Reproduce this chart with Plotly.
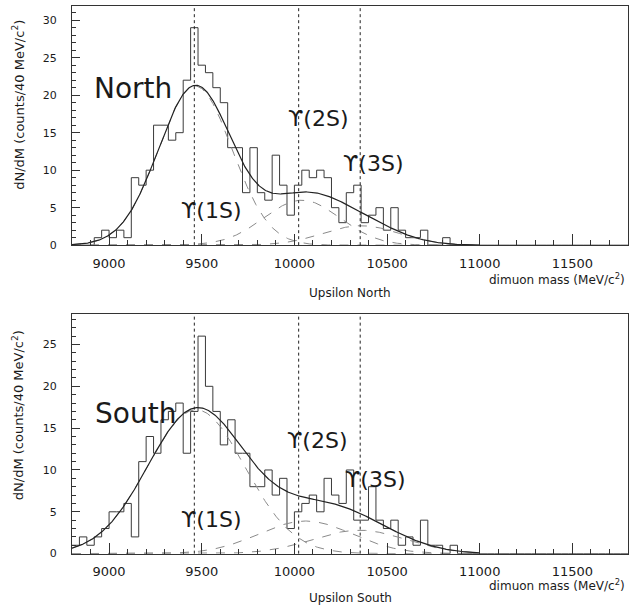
import numpy as np
import plotly.graph_objects as go

W, H = 631, 615

# ---------------- data ----------------
bin_low = 8800
bin_width = 40
north_counts = [0, 0, 0, 1, 2, 1, 2, 1, 9, 8,
                10, 16, 16, 14, 15, 22, 29, 24, 23, 21,
                19, 13, 13, 7, 13, 7, 6, 12, 8, 4,
                8, 10, 9, 10, 9, 5, 3, 7, 8, 3,
                4, 5, 2, 5, 2, 1, 1, 2, 0, 0,
                1, 0, 0, 0, 0, 0, 0, 0, 0, 0,
                0, 0, 0, 0, 0, 0, 0, 0, 0, 0,
                0, 0, 0, 0, 0]
south_counts = [1, 2, 1, 2, 3, 5, 5, 6, 2, 11,
                14, 12, 16, 17, 18, 12, 17, 26, 20, 17,
                13, 16, 12, 12, 8, 8, 10, 7, 9, 3,
                5, 6, 7, 5, 9, 7, 6, 10, 4, 4,
                8, 4, 3, 4, 1, 2, 1, 4, 1, 1,
                0, 1, 0, 0, 0, 0, 0, 0, 0, 0,
                0, 0, 0, 0, 0, 0, 0, 0, 0, 0,
                0, 0, 0, 0, 0]
upsilon_masses = [9460, 10023, 10355]
upsilon_names = ["ϒ(1S)", "ϒ(2S)", "ϒ(3S)"]
north_fit_mean = [9465, 10040, 10360]
north_fit_amp = [21.2, 6.0, 2.6]
north_fit_sigma = [198, 205, 205]
south_fit_mean = [9470, 10060, 10350]
south_fit_amp = [17.2, 3.9, 2.8]
south_fit_sigma = [262, 250, 250]
x_ticks = [9000, 9500, 10000, 10500, 11000, 11500]

FONT = "DejaVu Sans"
TXT = "#1a1a1a"


def X(px):
    return px / W


def Y(py):
    return 1 - py / H


fig = go.Figure()


def add_panel(counts, means, amps, sigmas, xa, ya):
    n = len(counts)
    edges = [bin_low + bin_width * i for i in range(n + 1)]
    fig.add_trace(go.Scatter(x=edges, y=list(counts) + [counts[-1]], mode="lines",
                             line=dict(shape="hv", color="#3a3a3a", width=1),
                             xaxis=xa, yaxis=ya, showlegend=False, hoverinfo="skip"))
    m = np.linspace(8800, 11000, 551)
    comps = [a * np.exp(-0.5 * ((m - mu) / s) ** 2) for mu, a, s in zip(means, amps, sigmas)]
    for c in comps:
        fig.add_trace(go.Scatter(x=m, y=c, mode="lines",
                                 line=dict(color="#8a8a8a", width=1, dash="dash"),
                                 xaxis=xa, yaxis=ya, showlegend=False, hoverinfo="skip"))
    fig.add_trace(go.Scatter(x=m, y=sum(comps), mode="lines",
                             line=dict(color="#222222", width=1.2),
                             xaxis=xa, yaxis=ya, showlegend=False, hoverinfo="skip"))
    for um in upsilon_masses:
        fig.add_shape(type="line", x0=um, x1=um, y0=0, y1=1, xref=xa,
                      yref=ya + " domain", line=dict(color="#222222", width=1, dash="dot"))


add_panel(north_counts, north_fit_mean, north_fit_amp, north_fit_sigma, "x", "y")
add_panel(south_counts, south_fit_mean, south_fit_amp, south_fit_sigma, "x2", "y2")

xdom = [X(72), X(628)]


def xaxis(dom_anchor):
    return dict(domain=xdom, range=[8800, 11800], anchor=dom_anchor,
                tickvals=x_ticks, ticktext=[str(v) for v in x_ticks],
                ticks="inside", ticklen=11, tickwidth=1, tickcolor="#333",
                minor=dict(ticks="inside", ticklen=5, dtick=100, tick0=8800, tickcolor="#333"),
                showline=True, linecolor="#333", linewidth=1, mirror=True,
                showgrid=False, zeroline=False,
                tickfont=dict(family=FONT, size=13, color=TXT), ticklabelstandoff=6)


def yaxis(dom, rng, dom_anchor):
    return dict(domain=dom, range=rng, anchor=dom_anchor,
                dtick=5, tick0=0,
                ticks="inside", ticklen=8, tickwidth=1, tickcolor="#333",
                minor=dict(ticks="inside", ticklen=4, dtick=1, tickcolor="#333"),
                showline=True, linecolor="#333", linewidth=1, mirror=True,
                showgrid=False, zeroline=False,
                tickfont=dict(family=FONT, size=11, color=TXT), ticklabelstandoff=12)


fig.update_layout(
    width=W, height=H, margin=dict(l=0, r=0, t=0, b=0),
    paper_bgcolor="white", plot_bgcolor="white",
    xaxis=xaxis("y"), yaxis=yaxis([Y(248), Y(6)], [0, 31.9], "x"),
    xaxis2=xaxis("y2"), yaxis2=yaxis([Y(560), Y(318)], [0, 28.6], "x2"),
)

ann = []


def txt(s, px, py, size, xanchor="center"):
    ann.append(dict(text=s, x=X(px), y=Y(py),
                    xref="paper", yref="paper", xanchor=xanchor, yanchor="middle",
                    showarrow=False, font=dict(family=FONT, size=size, color=TXT)))


ytitle = "dN/dM (counts/40 MeV/c<sup>2</sup>)"
for cy in [106, 420]:
    ann.append(dict(text=ytitle, x=X(18), y=Y(cy), xref="paper", yref="paper",
                    xanchor="center", yanchor="middle", textangle=-90, showarrow=False,
                    font=dict(family=FONT, size=13, color=TXT)))

txt("dimuon mass (MeV/c<sup>2</sup>)", 627, 282, 12, xanchor="right")
txt("dimuon mass (MeV/c<sup>2</sup>)", 627, 592, 12, xanchor="right")
txt("Upsilon North", 350, 296, 12)
txt("Upsilon South", 350, 605, 12)

txt("North", 133, 90, 28)
txt("South", 135, 418, 28)
txt(upsilon_names[0], 211, 213, 22)
txt(upsilon_names[1], 318, 120, 22)
txt(upsilon_names[2], 373, 165, 22)
txt(upsilon_names[0], 211, 525, 22)
txt(upsilon_names[1], 317, 446, 22)
txt(upsilon_names[2], 375, 485, 22)

fig.update_layout(annotations=ann)
fig.write_html("out.html", config={"displayModeBar": False},
               post_script="document.body.style.margin='0';document.body.style.overflow='hidden';")
